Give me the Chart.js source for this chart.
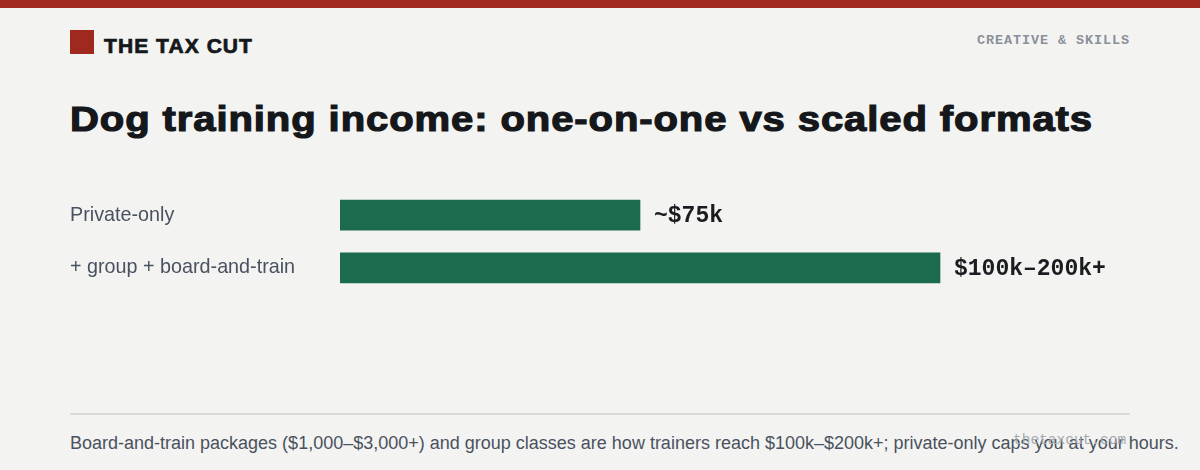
<!DOCTYPE html>
<html>
<head>
<meta charset="utf-8">
<script src="https://cdn.jsdelivr.net/npm/chart.js@4"></script>
<style>
  html, body { margin:0; padding:0; }
  body { width:1200px; height:470px; background:#f3f4f1; position:relative; overflow:hidden; font-family:"Liberation Sans", Arial, sans-serif; }
  .topbar { position:absolute; left:0; top:0; width:1200px; height:8px; background:#a0291f; }
  .logo { position:absolute; left:70px; top:30px; width:24px; height:24px; background:#a0291f; }
  .brand { position:absolute; left:104px; top:33px; font-weight:bold; font-size:20px; letter-spacing:1px; color:#15171b; line-height:26px; -webkit-text-stroke:0.7px #15171b; white-space:nowrap; transform-origin:0 50%; }
  .section { position:absolute; right:70px; top:33px; font-family:"Liberation Mono", "Courier New", monospace; font-weight:bold; font-size:13.5px; letter-spacing:0.9px; color:#8a909a; line-height:16px; }
  .title { position:absolute; left:70px; top:94px; font-weight:bold; font-size:35px; letter-spacing:0.8px; color:#15171b; line-height:50px; -webkit-text-stroke:1.2px #15171b; white-space:nowrap; transform-origin:0 50%; }
  .chartbox { position:absolute; left:70px; top:177px; width:1070px; height:129px; }
  .rule { position:absolute; left:70px; top:413px; width:1060px; height:2px; background:#d9dbd5; }
  .foot { position:absolute; left:70px; top:430px; font-size:18px; color:#4a5160; line-height:26px; white-space:nowrap; }
  .wm { position:absolute; left:1013px; top:432px; font-family:"Liberation Mono", "Courier New", monospace; font-size:14.5px; color:#a6aaae; line-height:16px; white-space:nowrap; }
</style>
</head>
<body>
<div class="topbar"></div>
<div class="logo"></div>
<div class="brand" id="brand" data-w="149">THE TAX CUT</div>
<div class="section">CREATIVE &amp; SKILLS</div>
<div class="title" id="title" data-w="1023">Dog training income: one-on-one vs scaled formats</div>
<div class="chartbox"><canvas id="c"></canvas></div>
<div class="rule"></div>
<div class="foot">Board-and-train packages ($1,000–$3,000+) and group classes are how trainers reach $100k–$200k+; private-only caps you at your hours.</div>
<div class="wm">thetaxcut.com</div>
<script>
const categories = ['Private-only', '+ group + board-and-train'];
const incomeK = [75, 150];
const valueLabels = ['~$75k', '$100k–200k+'];
const axisMax = 200;

// widen heavy headings to mimic a black-weight face
['brand', 'title'].forEach(id => {
  const el = document.getElementById(id);
  const w = el.getBoundingClientRect().width;
  el.style.transform = 'scaleX(' + (parseFloat(el.dataset.w) / w) + ')';
});

const valueLabelPlugin = {
  id: 'valueLabels',
  afterDatasetsDraw(chart) {
    const ctx = chart.ctx;
    const meta = chart.getDatasetMeta(0);
    ctx.save();
    ctx.font = 'bold 23px "Liberation Mono", "Courier New", monospace';
    ctx.fillStyle = '#1a1c20';
    ctx.textAlign = 'left';
    ctx.textBaseline = 'middle';
    meta.data.forEach((bar, i) => {
      ctx.fillText(valueLabels[i], bar.x + 14, bar.y + 1);
    });
    ctx.restore();
  }
};

new Chart(document.getElementById('c'), {
  type: 'bar',
  data: {
    labels: categories,
    datasets: [{
      data: incomeK,
      backgroundColor: '#1c6b4f',
      borderWidth: 0,
      barThickness: 30
    }]
  },
  options: {
    indexAxis: 'y',
    responsive: true,
    maintainAspectRatio: false,
    animation: false,
    layout: { padding: 0 },
    plugins: { legend: { display: false }, tooltip: { enabled: false } },
    scales: {
      x: { display: false, min: 0, max: axisMax },
      y: {
        grid: { display: false },
        border: { display: false },
        ticks: {
          crossAlign: 'far',
          padding: 0,
          color: '#4a5160',
          font: { family: '"Liberation Sans", Arial, sans-serif', size: 19.75 }
        },
        afterFit(scale) { scale.width = 270; }
      }
    }
  },
  plugins: [valueLabelPlugin]
});
</script>
</body>
</html>
